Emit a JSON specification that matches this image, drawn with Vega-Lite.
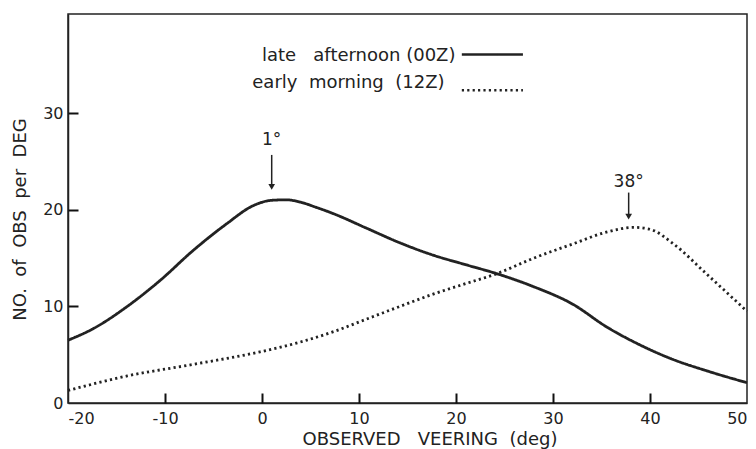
{
  "$schema": "https://vega.github.io/schema/vega-lite/v6.json",
  "width": 679,
  "height": 389,
  "autosize": {"type": "none"},
  "padding": {"left": 68, "top": 14, "right": 9, "bottom": 46},
  "background": "white",
  "config": {
    "font": "DejaVu Sans",
    "view": {"stroke": "#222", "strokeWidth": 1.5},
    "axis": {
      "grid": false,
      "domainColor": "#222",
      "domainWidth": 1.5,
      "tickColor": "#111",
      "tickWidth": 2,
      "labelColor": "#222",
      "labelFontSize": 16,
      "labelExpr": "'' + datum.value",
      "titleColor": "#222",
      "titleFontWeight": "normal",
      "titleFontSize": 18
    }
  },
  "resolve": {"axis": {"x": "independent", "y": "independent"}},
  "datasets": {
    "curves": [
      {"series": "late afternoon (00Z)", "x": -20, "y": 6.5},
      {"series": "late afternoon (00Z)", "x": -17.4, "y": 7.7},
      {"series": "late afternoon (00Z)", "x": -13.9, "y": 10.0},
      {"series": "late afternoon (00Z)", "x": -10.5, "y": 12.7},
      {"series": "late afternoon (00Z)", "x": -7.1, "y": 15.8},
      {"series": "late afternoon (00Z)", "x": -3.6, "y": 18.6},
      {"series": "late afternoon (00Z)", "x": -1.0, "y": 20.4},
      {"series": "late afternoon (00Z)", "x": 1.0, "y": 21.0},
      {"series": "late afternoon (00Z)", "x": 2.5, "y": 21.05},
      {"series": "late afternoon (00Z)", "x": 4.0, "y": 20.8},
      {"series": "late afternoon (00Z)", "x": 5.5, "y": 20.3},
      {"series": "late afternoon (00Z)", "x": 7.4, "y": 19.6},
      {"series": "late afternoon (00Z)", "x": 10.8, "y": 18.1},
      {"series": "late afternoon (00Z)", "x": 14.2, "y": 16.6},
      {"series": "late afternoon (00Z)", "x": 17.7, "y": 15.3},
      {"series": "late afternoon (00Z)", "x": 21.1, "y": 14.3},
      {"series": "late afternoon (00Z)", "x": 24.2, "y": 13.4},
      {"series": "late afternoon (00Z)", "x": 28.0, "y": 12.05},
      {"series": "late afternoon (00Z)", "x": 32.1, "y": 10.2},
      {"series": "late afternoon (00Z)", "x": 35.5, "y": 7.9},
      {"series": "late afternoon (00Z)", "x": 39.0, "y": 6.0},
      {"series": "late afternoon (00Z)", "x": 42.4, "y": 4.5},
      {"series": "late afternoon (00Z)", "x": 45.8, "y": 3.35},
      {"series": "late afternoon (00Z)", "x": 50, "y": 2.1},
      {"series": "early morning (12Z)", "x": -20, "y": 1.3},
      {"series": "early morning (12Z)", "x": -13.9, "y": 2.8},
      {"series": "early morning (12Z)", "x": -7.1, "y": 4.0},
      {"series": "early morning (12Z)", "x": -0.2, "y": 5.3},
      {"series": "early morning (12Z)", "x": 3.9, "y": 6.3},
      {"series": "early morning (12Z)", "x": 7.4, "y": 7.4},
      {"series": "early morning (12Z)", "x": 10.8, "y": 8.7},
      {"series": "early morning (12Z)", "x": 14.2, "y": 10.0},
      {"series": "early morning (12Z)", "x": 17.7, "y": 11.3},
      {"series": "early morning (12Z)", "x": 21.1, "y": 12.4},
      {"series": "early morning (12Z)", "x": 24.2, "y": 13.4},
      {"series": "early morning (12Z)", "x": 28.0, "y": 15.0},
      {"series": "early morning (12Z)", "x": 32.1, "y": 16.5},
      {"series": "early morning (12Z)", "x": 35.5, "y": 17.7},
      {"series": "early morning (12Z)", "x": 38.3, "y": 18.2},
      {"series": "early morning (12Z)", "x": 40.0, "y": 18.0},
      {"series": "early morning (12Z)", "x": 42.4, "y": 16.5},
      {"series": "early morning (12Z)", "x": 45.8, "y": 13.4},
      {"series": "early morning (12Z)", "x": 50, "y": 9.5}
    ],
    "legendRows": [
      {"series": "late afternoon (00Z)", "label": "late\u00a0\u00a0\u00a0afternoon (00Z)", "tx": 0.0, "ty": 35.9, "x1": 20.6, "x2": 26.9, "ly": 36.1},
      {"series": "early morning (12Z)", "label": "early\u00a0\u00a0morning\u00a0\u00a0(12Z)", "tx": -1.0, "ty": 33.2, "x1": 20.6, "x2": 26.9, "ly": 32.4}
    ],
    "peaks": [
      {"label": "1°", "x": 1.0, "ty": 27.25, "y1": 25.7, "y2": 22.6, "tip": 22.4},
      {"label": "38°", "x": 37.8, "ty": 22.9, "y1": 21.8, "y2": 19.5, "tip": 19.3}
    ]
  },
  "layer": [
    {
      "data": {"name": "curves"},
      "mark": {"type": "line", "interpolate": "monotone", "color": "#222", "strokeWidth": 2.8},
      "encoding": {
        "x": {"field": "x", "type": "quantitative", "scale": {"domain": [-20, 50], "nice": false, "zero": false},
          "axis": {"values": [-20, -10, 0, 10, 20, 30, 40, 50], "ticks": false, "tickSize": 0, "labelPadding": 7, "title": "OBSERVED\u00a0\u00a0\u00a0VEERING\u00a0\u00a0(deg)", "titleX": 234, "titleY": 36, "titleAlign": "left", "titleBaseline": "middle"}},
        "y": {"field": "y", "type": "quantitative", "scale": {"domain": [0, 40.3], "nice": false},
          "axis": {"values": [0, 10, 20, 30], "ticks": false, "tickSize": 0, "labelPadding": 5, "title": "NO.\u00a0\u00a0of\u00a0\u00a0OBS\u00a0\u00a0per\u00a0\u00a0DEG", "titleX": -48, "titleY": 205, "titleAlign": "center", "titleBaseline": "middle"}},
        "strokeDash": {"field": "series", "type": "nominal",
          "scale": {"domain": ["late afternoon (00Z)", "early morning (12Z)"], "range": [[1, 0], [2.2, 3.2]]},
          "legend": null},
        "detail": {"field": "series"}
      }
    },
    {
      "data": {"name": "peaks"},
      "mark": {"type": "text", "align": "center", "baseline": "middle", "fontSize": 17, "color": "#222"},
      "encoding": {
        "x": {"field": "x", "type": "quantitative",
          "axis": {"orient": "top", "offset": -389, "values": [-10, 0, 10, 20, 30, 40], "ticks": true, "tickSize": 10, "labels": false, "domain": false, "title": null}},
        "y": {"field": "ty", "type": "quantitative",
          "axis": {"orient": "right", "offset": -679, "values": [10, 20, 30], "ticks": true, "tickSize": 10, "labels": false, "domain": false, "title": null}},
        "text": {"field": "label"}
      }
    },
    {
      "data": {"name": "legendRows"},
      "mark": {"type": "text", "align": "left", "baseline": "middle", "fontSize": 18, "color": "#222"},
      "encoding": {
        "x": {"field": "tx", "type": "quantitative", "axis": null},
        "y": {"field": "ty", "type": "quantitative", "axis": null},
        "text": {"field": "label"}
      }
    },
    {
      "data": {"name": "legendRows"},
      "mark": {"type": "rule", "color": "#222", "strokeWidth": 2.5},
      "encoding": {
        "x": {"field": "x1", "type": "quantitative", "axis": null},
        "x2": {"field": "x2"},
        "y": {"field": "ly", "type": "quantitative", "axis": null},
        "strokeDash": {"field": "series", "type": "nominal", "legend": null}
      }
    },
    {
      "data": {"name": "peaks"},
      "mark": {"type": "rule", "color": "#222", "strokeWidth": 1.5},
      "encoding": {
        "x": {"field": "x", "type": "quantitative", "axis": null},
        "y": {"field": "y1", "type": "quantitative", "axis": null},
        "y2": {"field": "y2"}
      }
    },
    {
      "data": {"name": "peaks"},
      "mark": {"type": "point", "shape": "triangle-down", "filled": true, "color": "#222", "size": 45, "opacity": 1},
      "encoding": {
        "x": {"field": "x", "type": "quantitative", "axis": null},
        "y": {"field": "tip", "type": "quantitative", "axis": null}
      }
    }
  ]
}
